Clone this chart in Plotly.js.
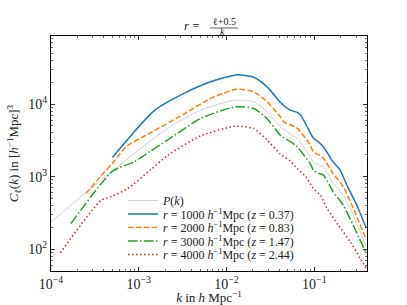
<!DOCTYPE html>
<html>
<head>
<meta charset="utf-8">
<script src="https://cdn.plot.ly/plotly-3.0.1.min.js"></script>
<style>html,body{margin:0;padding:0;background:#fff;}#plot{width:407px;height:305px;}</style>
</head>
<body>
<div id="plot"></div>
<script>
// P(k)
const kP = [1e-4, 3.7e-4, 5.02e-4, 8.85e-4, 2.12e-3, 5.07e-3, 1.25e-2, 2.04e-2, 2.9e-2, 4.1e-2, 5.3e-2, 6.36e-2, 9.0e-2, 9.75e-2, 1.11e-1, 1.27e-1, 1.64e-1, 2.14e-1, 2.77e-1, 3.9e-1];
const cP = [238, 895, 1200, 2090, 4630, 8270, 11350, 10800, 7900, 4860, 3900, 3360, 1900, 1600, 1450, 1370, 813, 556, 294, 108];
// r = 1000
const k1 = [5.0e-4, 1.49e-3, 3.27e-3, 6.58e-3, 1.3e-2, 2.04e-2, 2.9e-2, 4.1e-2, 5.3e-2, 6.4e-2, 7.0e-2, 9.0e-2, 9.75e-2, 1.11e-1, 1.22e-1, 1.39e-1, 1.58e-1, 1.97e-1, 2.35e-1, 3.06e-1, 3.9e-1];
const c1 = [1840, 8090, 14060, 20300, 25300, 23500, 17300, 10600, 8270, 7700, 7050, 4000, 3400, 3020, 2720, 2200, 1690, 1230, 760, 400, 195];
// r = 2000
const k2 = [2.5e-4, 3.7e-4, 5.02e-4, 7.2e-4, 1.37e-3, 3.27e-3, 6.58e-3, 1.3e-2, 2.04e-2, 2.9e-2, 4.1e-2, 4.49e-2, 6.36e-2, 9.0e-2, 9.75e-2, 1.17e-1, 1.27e-1, 1.64e-1, 2.14e-1, 2.77e-1, 3.9e-1];
const c2 = [586, 1020, 1520, 2600, 4050, 7300, 12000, 16000, 14800, 10760, 6680, 5700, 4670, 2720, 2200, 1950, 1800, 1100, 722, 368, 135];
// r = 3000
const k3 = [1.69e-4, 5.02e-4, 8.85e-4, 1.37e-3, 2.12e-3, 5.07e-3, 1.25e-2, 2.04e-2, 2.9e-2, 4.1e-2, 5.3e-2, 6.36e-2, 9.0e-2, 9.75e-2, 1.11e-1, 1.27e-1, 1.64e-1, 2.14e-1, 2.77e-1, 3.9e-1];
const c3 = [226, 1190, 1600, 2260, 3190, 6350, 9180, 8700, 6300, 3730, 3050, 2580, 1500, 1230, 1120, 1050, 617, 404, 214, 88];
// r = 4000
const k4 = [1.28e-4, 3.7e-4, 5.0e-4, 7.44e-4, 1.37e-3, 2.12e-3, 5.07e-3, 1.25e-2, 2.04e-2, 2.9e-2, 4.1e-2, 5.3e-2, 6.36e-2, 8.0e-2, 9.75e-2, 1.17e-1, 1.39e-1, 1.88e-1, 2.57e-1, 3.33e-1, 3.9e-1];
const c4 = [89, 470, 540, 680, 1250, 1950, 3650, 4950, 4600, 3200, 2050, 1650, 1300, 1000, 687, 556, 368, 214, 126, 75, 55];

const names = [
  '<i>P</i>(<i>k</i>)',
  '<i>r</i> = 1000 <i>h</i><sup>−1</sup>Mpc (<i>z</i> = 0.37)',
  '<i>r</i> = 2000 <i>h</i><sup>−1</sup>Mpc (<i>z</i> = 0.83)',
  '<i>r</i> = 3000 <i>h</i><sup>−1</sup>Mpc (<i>z</i> = 1.47)',
  '<i>r</i> = 4000 <i>h</i><sup>−1</sup>Mpc (<i>z</i> = 2.44)'
];
const xTickVals = [1e-4, 1e-3, 1e-2, 1e-1];
const xTickText = ['10<sup>−4</sup>', '10<sup>−3</sup>', '10<sup>−2</sup>', '10<sup>−1</sup>'];
const yTickVals = [1e2, 1e3, 1e4];
const yTickText = ['10<sup>2</sup>', '10<sup>3</sup>', '10<sup>4</sup>'];

function minorVals(d0, d1) {
  const v = [];
  for (let d = d0; d <= d1; d++) for (let m = 2; m <= 9; m++) v.push(m * Math.pow(10, d));
  return v;
}

const sm = 0.6;
const legIds = ['legend', 'legend2', 'legend3', 'legend4', 'legend5'];
const traces = [
  {x: kP, y: cP, name: names[0], legend: legIds[0], mode: 'lines', line: {color: '#cccccc', width: 0.9, shape: 'spline', smoothing: sm}},
  {x: k1, y: c1, name: names[1], legend: legIds[1], mode: 'lines', line: {color: '#1f77b4', width: 1.5, shape: 'spline', smoothing: sm}},
  {x: k2, y: c2, name: names[2], legend: legIds[2], mode: 'lines', line: {color: '#ff7f0e', width: 1.5, dash: '5.5px,2.4px', shape: 'spline', smoothing: sm}},
  {x: k3, y: c3, name: names[3], legend: legIds[3], mode: 'lines', line: {color: '#2ca02c', width: 1.5, dash: '9.6px,2.4px,1.5px,2.4px', shape: 'spline', smoothing: sm}},
  {x: k4, y: c4, name: names[4], legend: legIds[4], mode: 'lines', line: {color: '#d62728', width: 1.5, dash: '1.5px,2.5px', shape: 'spline', smoothing: sm}}
];

const FONT = 'Liberation Serif, DejaVu Serif, serif';
const axisCommon = {
  type: 'log', showline: true, linecolor: '#000', linewidth: 1, mirror: 'allticks',
  ticks: 'inside', ticklen: 4, tickwidth: 0.8, tickcolor: '#000', showgrid: false, zeroline: false,
  tickmode: 'array', tickfont: {family: FONT, size: 14, color: '#222'}
};
const L = 51, R = 40, T = 36, B = 34, W = 407, H = 305;
const pw = W - L - R, ph = H - T - B;
function px(xp) { return (xp - L) / pw; }
function py(yp) { return (H - B - yp) / ph; }

const rowY = [200, 213.5, 227, 240.5, 254];
const layout = {
  width: W, height: H,
  margin: {l: L, r: R, t: T, b: B, pad: 0},
  paper_bgcolor: '#fff', plot_bgcolor: '#fff',
  font: {family: FONT, color: '#222'},
  showlegend: true,
  xaxis: Object.assign({}, axisCommon, {
    range: [-4, -0.4], tickvals: xTickVals, ticktext: xTickText,
    minor: {tickmode: 'array', tickvals: minorVals(-4, -1), ticks: 'inside', ticklen: 2, tickwidth: 0.6, tickcolor: '#000', showgrid: false},
    title: {text: '<i>k</i> in <i>h</i> Mpc<sup>−1</sup>', font: {family: FONT, size: 13, color: '#222'}, standoff: 4}
  }),
  yaxis: Object.assign({}, axisCommon, {
    range: [Math.log10(50), Math.log10(87000)], tickvals: yTickVals, ticktext: yTickText,
    minor: {tickmode: 'array', tickvals: minorVals(1, 4), ticks: 'inside', ticklen: 2, tickwidth: 0.6, tickcolor: '#000', showgrid: false},
    title: {text: '<i>C</i><sub>ℓ</sub>(<i>k</i>) in [<i>h</i><sup>−1</sup>Mpc]<sup>3</sup>', font: {family: FONT, size: 13, color: '#222'}, standoff: 6}
  }),
  annotations: [
    {xref: 'paper', yref: 'paper', x: px(192), y: py(25), text: '<i>r</i> =', showarrow: false, xanchor: 'center', yanchor: 'middle', font: {family: FONT, size: 13, color: '#222'}},
    {xref: 'paper', yref: 'paper', x: px(224), y: py(21), text: 'ℓ+0.5', showarrow: false, xanchor: 'center', yanchor: 'middle', font: {family: FONT, size: 10, color: '#222'}},
    {xref: 'paper', yref: 'paper', x: px(222), y: py(32), text: '<i>k</i>', showarrow: false, xanchor: 'center', yanchor: 'middle', font: {family: FONT, size: 10, color: '#222'}}
  ],
  shapes: [
    {type: 'line', xref: 'paper', yref: 'paper', x0: px(210), x1: px(238), y0: py(28), y1: py(28), line: {color: '#222', width: 0.7}}
  ]
};
legIds.forEach(function (id, i) {
  layout[id] = {x: px(123), y: py(rowY[i] - 14), xanchor: 'left', yanchor: 'top', bgcolor: 'rgba(0,0,0,0)',
    font: {family: FONT, size: 12, color: '#222'}, itemwidth: 30};
});

Plotly.newPlot('plot', traces, layout, {displayModeBar: false, staticPlot: true});
</script>
</body>
</html>
